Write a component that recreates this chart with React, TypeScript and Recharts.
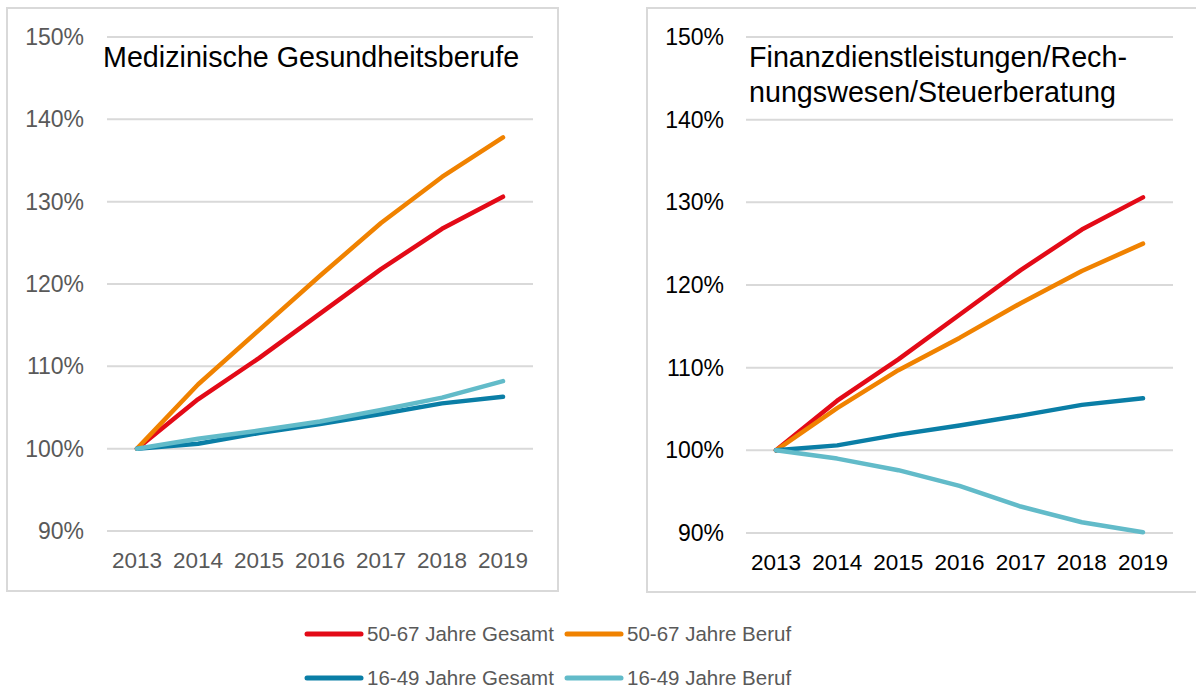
import { LineChart, Line, XAxis, YAxis, CartesianGrid } from "recharts";

const years = ["2013", "2014", "2015", "2016", "2017", "2018", "2019"];
const yTicks = [90, 100, 110, 120, 130, 140, 150];

// Gesamt series are the same in both panels
const gesamt5067 = [100, 106.0, 111.0, 116.4, 121.8, 126.7, 130.6];
const gesamt1649 = [100, 100.6, 101.9, 103.0, 104.2, 105.5, 106.3];

const medBeruf5067 = [100, 107.8, 114.4, 121.0, 127.4, 133.0, 137.8];
const medBeruf1649 = [100, 101.2, 102.2, 103.3, 104.7, 106.2, 108.2];

const finBeruf5067 = [100, 105.1, 109.7, 113.6, 117.8, 121.7, 125.0];
const finBeruf1649 = [100, 99.0, 97.6, 95.7, 93.2, 91.3, 90.1];

const RED = "#E30A17";
const ORANGE = "#F08200";
const BLUE = "#0A7EA6";
const LIGHT = "#62BBC9";
const GRID = "#D9D9D9";

const FONT = "'Liberation Sans', Arial, sans-serif";

const seriesMeta = [
  { key: "g50", color: RED, name: "50-67 Jahre Gesamt" },
  { key: "b50", color: ORANGE, name: "50-67 Jahre Beruf" },
  { key: "g16", color: BLUE, name: "16-49 Jahre Gesamt" },
  { key: "b16", color: LIGHT, name: "16-49 Jahre Beruf" },
];

function buildRows(beruf50: number[], beruf16: number[]) {
  return years.map((year, i) => ({
    year,
    g50: gesamt5067[i],
    b50: beruf50[i],
    g16: gesamt1649[i],
    b16: beruf16[i],
  }));
}

const medRows = buildRows(medBeruf5067, medBeruf1649);
const finRows = buildRows(finBeruf5067, finBeruf1649);

function Panel({
  rows,
  width,
  height,
  tickColor,
  rightMargin,
  yWidth,
  yMargin,
  xHeight,
}: {
  rows: any[];
  width: number;
  height: number;
  tickColor: string;
  rightMargin: number;
  yWidth: number;
  yMargin: number;
  xHeight: number;
}) {
  return (
    <LineChart
      width={width}
      height={height}
      data={rows}
      margin={{ top: 29, right: rightMargin, left: 0, bottom: 0 }}
    >
      <CartesianGrid vertical={false} stroke={GRID} strokeWidth={2} />
      <XAxis
        dataKey="year"
        height={xHeight}
        axisLine={false}
        tickLine={false}
        tickMargin={15}
        padding={{ left: 30, right: 30 }}
        interval={0}
        tick={{ fill: tickColor, fontSize: 22.5, fontFamily: FONT }}
      />
      <YAxis
        width={yWidth}
        domain={[90, 150]}
        ticks={yTicks}
        axisLine={false}
        tickLine={false}
        tickMargin={yMargin}
        tickFormatter={(v) => `${v}%`}
        tick={{ fill: tickColor, fontSize: 23, fontFamily: FONT }}
      />
      {seriesMeta.map((s) => (
        <Line
          key={s.key}
          type="linear"
          dataKey={s.key}
          stroke={s.color}
          strokeWidth={4.5}
          strokeLinecap="round"
          strokeLinejoin="round"
          dot={false}
          isAnimationActive={false}
        />
      ))}
    </LineChart>
  );
}

function LegendItem({ color, name }: { color: string; name: string }) {
  return (
    <div style={{ display: "flex", alignItems: "center", width: 260 }}>
      <svg width={60} height={8} style={{ marginRight: 3 }}>
        <line x1={3} y1={4} x2={57} y2={4} stroke={color} strokeWidth={5} strokeLinecap="round" />
      </svg>
      <span
        style={{
          fontFamily: FONT,
          fontSize: 20.5,
          color: "#595959",
          whiteSpace: "nowrap",
        }}
      >
        {name}
      </span>
    </div>
  );
}

export default function App() {
  return (
    <div
      style={{
        position: "absolute",
        left: 0,
        top: 0,
        width: 1196,
        height: 691,
        background: "#fff",
        overflow: "hidden",
      }}
    >
      {/* panel frames */}
      <div
        style={{
          position: "absolute",
          left: 6,
          top: 7,
          width: 553,
          height: 585,
          border: `2px solid ${GRID}`,
          boxSizing: "border-box",
        }}
      />
      <div
        style={{
          position: "absolute",
          left: 646,
          top: 7,
          width: 560,
          height: 586,
          border: `2px solid ${GRID}`,
          boxSizing: "border-box",
        }}
      />

      <div style={{ position: "absolute", left: 7, top: 8 }}>
        <Panel
          rows={medRows}
          width={551}
          height={583}
          tickColor="#595959"
          rightMargin={25}
          yWidth={100}
          yMargin={17}
          xHeight={60}
        />
      </div>
      <div style={{ position: "absolute", left: 647, top: 8 }}>
        <Panel
          rows={finRows}
          width={549}
          height={584}
          tickColor="#000000"
          rightMargin={23}
          yWidth={99}
          yMargin={16}
          xHeight={59}
        />
      </div>

      {/* titles */}
      <div
        style={{
          position: "absolute",
          left: 103,
          top: 40,
          fontFamily: FONT,
          fontSize: 28.7,
          lineHeight: "34.5px",
          color: "#000",
          whiteSpace: "nowrap",
        }}
      >
        Medizinische Gesundheitsberufe
      </div>
      <div
        style={{
          position: "absolute",
          left: 749,
          top: 40,
          fontFamily: FONT,
          fontSize: 28.7,
          lineHeight: "34.5px",
          color: "#000",
          whiteSpace: "nowrap",
        }}
      >
        Finanzdienstleistungen/Rech-
        <br />
        nungswesen/Steuerberatung
      </div>

      {/* shared legend */}
      <div style={{ position: "absolute", left: 304, top: 622, display: "flex", flexWrap: "wrap", width: 530, rowGap: 20 }}>
        {seriesMeta.map((s) => (
          <LegendItem key={s.key} color={s.color} name={s.name} />
        ))}
      </div>
    </div>
  );
}
